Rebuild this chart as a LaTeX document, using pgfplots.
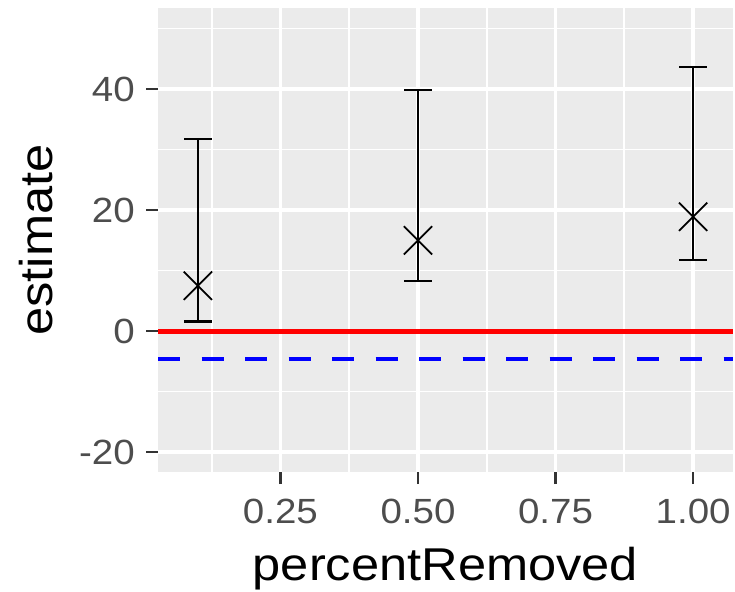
\documentclass[border=0pt]{standalone}
\usepackage{pgfplots}
\pgfplotsset{compat=1.18}
\usepackage{fontspec}
\setmainfont{Liberation Sans}[FakeStretch=1.1]

\definecolor{panelbg}{HTML}{EBEBEB}
\definecolor{ticktxt}{HTML}{4D4D4D}
\definecolor{tickline}{HTML}{333333}

% estimate with its upper / lower distances
\pgfplotstableread{
x    y     ep    em
0.1  7.5   24.3  5.9
0.5  15.0  24.8  6.7
1.0  18.9  24.8  7.1
}\estimates

\begin{document}
\begin{tikzpicture}
\path[use as bounding box] (0,0) rectangle (735pt,591pt);
\begin{axis}[
    at={(158pt,119pt)}, anchor=south west,
    scale only axis,
    width=575pt, height=464pt,
    xmin=0.0275, xmax=1.0725,
    ymin=-23.3, ymax=53.4,
    axis line style={draw=none},
    axis background/.style={fill=panelbg},
    xtick={0.25,0.5,0.75,1.0},
    xticklabels={0.25,0.50,0.75,1.00},
    ytick={-20,0,20,40},
    yticklabels={-20,0,20,40},
    minor xtick={0.125,0.375,0.625,0.875},
    minor ytick={-10,10,30,50},
    xtick pos=bottom, ytick pos=left,
    tick align=outside,
    major tick length=12pt, minor tick length=0pt,
    major tick style={line width=2.5pt, tickline},
    grid=both,
    major grid style={white, line width=3.5pt},
    minor grid style={white, line width=1.8pt},
    ticklabel style={font=\fontsize{35}{40}\selectfont, text=ticktxt, inner sep=0pt},
    xticklabel style={yshift=-15pt},
    yticklabel style={xshift=-11pt},
    xlabel={percentRemoved},
    ylabel={estimate},
    xlabel style={font=\fontsize{46}{50}\selectfont, inner sep=0pt,
        at={(axis description cs:0.5,-0.2328)}, anchor=base},
    ylabel style={font=\fontsize{46}{50}\selectfont, inner sep=0pt,
        at={(axis description cs:-0.184,0.5)}, anchor=base},
    clip=true,
]
\addplot[only marks, black, mark=x, mark size=20pt,
    mark options={line width=1.8pt},
    error bars/.cd, y dir=both, y explicit,
    error bar style={line width=2.3pt, black},
    error mark options={line width=2.3pt, mark size=13.75pt, black, rotate=90}]
    table[x=x, y=y, y error plus=ep, y error minus=em] {\estimates};
\addplot[red, line width=5pt] coordinates {(0.0275,0) (1.0725,0)};
\addplot[blue, line width=4pt, dash pattern=on 22pt off 21.5pt]
    coordinates {(0.0275,-4.6) (1.0725,-4.6)};
\end{axis}
\end{tikzpicture}
\end{document}
